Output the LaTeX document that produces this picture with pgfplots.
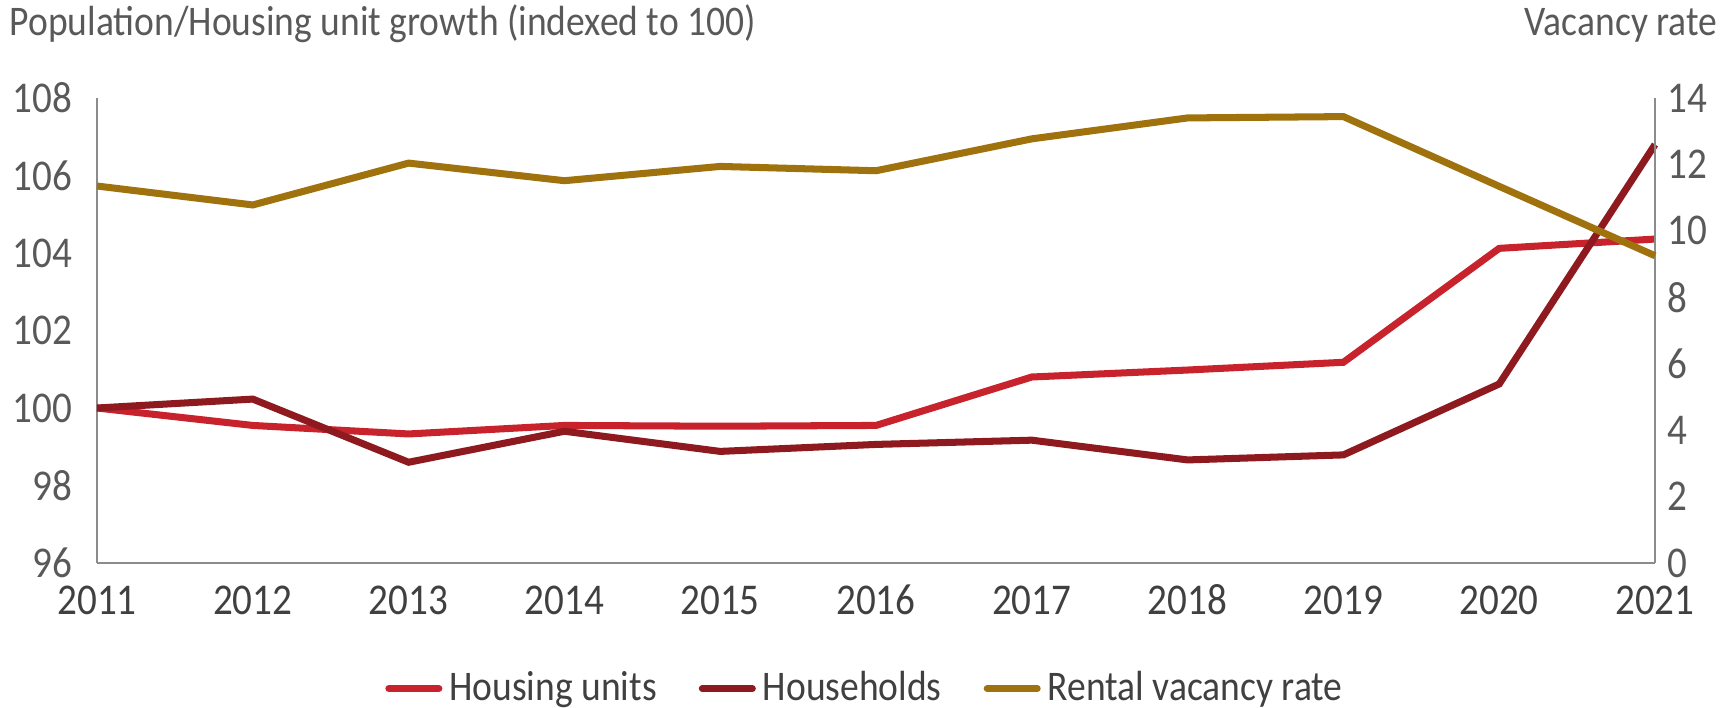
\documentclass[border=0pt]{standalone}
\usepackage{pgfplots}
\pgfplotsset{compat=1.18}
\usepackage{fontspec}
\setmainfont{Carlito}[FakeStretch=0.89]
\definecolor{hucol}{HTML}{C8232C}
\definecolor{hhcol}{HTML}{8E1A1F}
\definecolor{rvcol}{HTML}{A0720E}
\definecolor{axcol}{HTML}{8C8C8C}
\definecolor{txtcol}{HTML}{595959}
\definecolor{legcol}{HTML}{404040}
\begin{document}
\begin{tikzpicture}
\useasboundingbox (0,0) rectangle (17.27cm,7.07cm);
\begin{axis}[
  at={(0.97cm,1.44cm)}, anchor=south west,
  scale only axis, width=15.58cm, height=4.65cm,
  xmin=2011, xmax=2021, ymin=96, ymax=108,
  xtick={2011,...,2021}, ytick={96,98,...,108},
  axis x line*=bottom, axis y line*=left,
  axis line style={axcol, line width=0.6pt},
  major tick length=0pt,
  x tick label style={/pgf/number format/1000 sep={}, font=\fontsize{12.5}{15}\selectfont, text=legcol, text height=9pt, text depth=0pt},
  y tick label style={font=\fontsize{12.5}{15}\selectfont, text=txtcol},
  xticklabel style={yshift=-2pt},
  yticklabel style={xshift=-3.5pt},
  /pgf/number format/assume math mode=true,
  legend style={at={(0.4945,-0.27)}, anchor=center, draw=none, legend columns=3,
    font=\fontsize{12}{15}\selectfont, text=legcol,
    /tikz/every even column/.append style={column sep=0.35cm}},
  legend image code/.code={\draw[#1, line cap=round] (0cm,0cm) -- (0.5cm,0cm);},
  clip=false,
]
\addplot[hucol, line width=2pt] coordinates {
(2011,100.0) (2012,99.55) (2013,99.33) (2014,99.55) (2015,99.53) (2016,99.55)
(2017,100.8) (2018,100.98) (2019,101.18) (2020,104.12) (2021,104.36)};
\addlegendentry{Housing units}
\addplot[hhcol, line width=2pt] coordinates {
(2011,100.0) (2012,100.23) (2013,98.6) (2014,99.4) (2015,98.88) (2016,99.06)
(2017,99.17) (2018,98.66) (2019,98.79) (2020,100.62) (2021,106.8)};
\addlegendentry{Households}
\addlegendimage{rvcol, line width=2pt}
\addlegendentry{Rental vacancy rate}
\end{axis}
\begin{axis}[
  at={(0.97cm,1.44cm)}, anchor=south west,
  scale only axis, width=15.58cm, height=4.65cm,
  xmin=2011, xmax=2021, ymin=0, ymax=14,
  ytick={0,2,...,14},
  axis x line=none, axis y line*=right,
  axis line style={axcol, line width=0.6pt},
  major tick length=0pt,
  y tick label style={font=\fontsize{12.5}{15}\selectfont, text=txtcol},
  yticklabel style={xshift=0pt},
  /pgf/number format/assume math mode=true,
  clip=false,
]
\addplot[rvcol, line width=2pt] coordinates {
(2011,11.35) (2012,10.78) (2013,12.04) (2014,11.51) (2015,11.94) (2016,11.81)
(2017,12.77) (2018,13.40) (2019,13.44) (2020,11.34) (2021,9.25)};
\end{axis}
\node[anchor=base west, text=txtcol, font=\fontsize{12}{14}\selectfont, inner sep=0pt] at (0.09cm,6.71cm) {Population/Housing unit growth (indexed to 100)};
\node[anchor=base east, text=txtcol, font=\fontsize{12}{14}\selectfont, inner sep=0pt] at (17.18cm,6.71cm) {Vacancy rate};
\end{tikzpicture}
\end{document}
